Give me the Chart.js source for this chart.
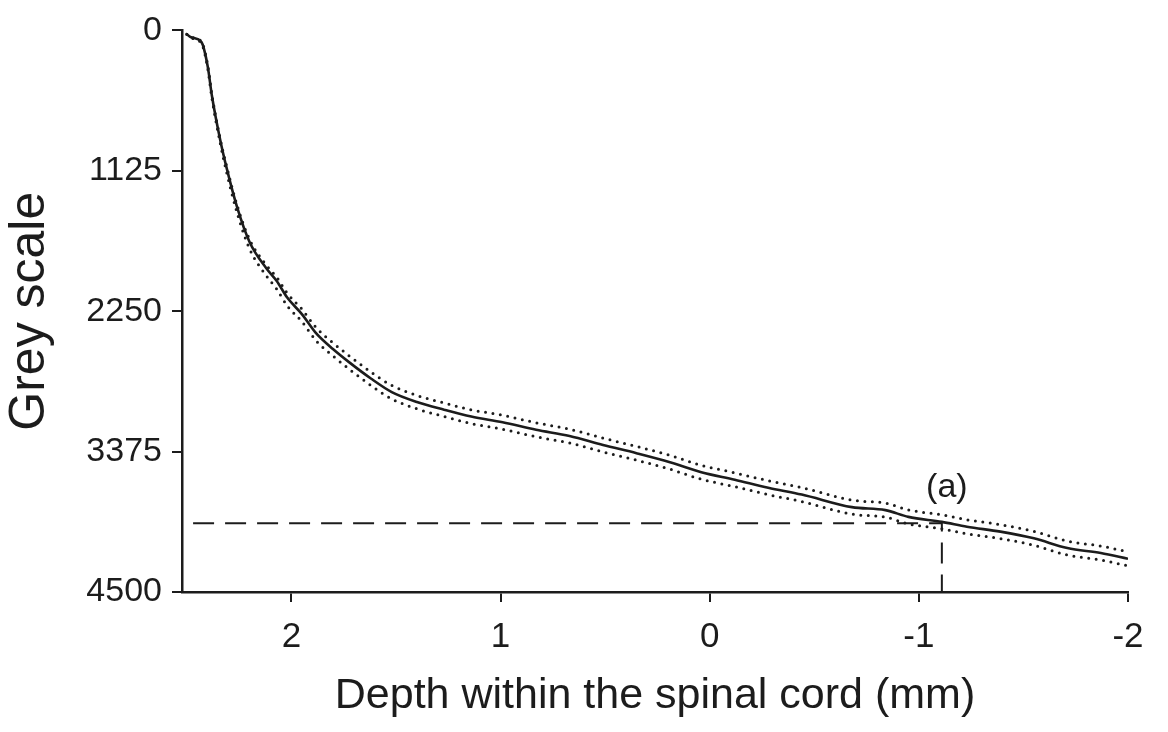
<!DOCTYPE html>
<html>
<head>
<meta charset="utf-8">
<script src="https://cdn.jsdelivr.net/npm/chart.js@4.4.0/dist/chart.umd.min.js"></script>
<style>
  html, body { margin: 0; padding: 0; background: #fff; }
  #wrap { width: 1168px; height: 732px; }
</style>
</head>
<body>
<div id="wrap"><canvas id="chart"></canvas></div>
<script>
// depth (mm) and mean grey value
const depth = [2.50, 2.48, 2.43, 2.40, 2.38, 2.34, 2.31, 2.26, 2.20, 2.12,
  2.07, 2.02, 1.95, 1.88, 1.80, 1.72, 1.62, 1.52, 1.40, 1.27,
  1.14, 0.99, 0.83, 0.67, 0.51, 0.35, 0.19, 0.04, -0.12, -0.28,
  -0.44, -0.68, -0.84, -0.95, -1.11, -1.23, -1.39, -1.55, -1.71, -1.87, -2.00];
const grey = [31, 55, 94, 289, 523, 880, 1100, 1414, 1695, 1906,
  2008, 2141, 2273, 2430, 2555, 2664, 2789, 2898, 2977, 3039,
  3094, 3140, 3200, 3250, 3322, 3388, 3460, 3540, 3600, 3664,
  3719, 3820, 3844, 3898, 3938, 3977, 4016, 4070, 4148, 4188, 4234];
// dotted bounds above / below the mean
const greyUpper = [31, 55, 89, 279, 513, 870, 1085, 1399, 1675, 1881,
  1978, 2106, 2233, 2385, 2505, 2612, 2737, 2845, 2925, 2985,
  3040, 3084, 3144, 3195, 3267, 3333, 3405, 3485, 3545, 3608,
  3663, 3764, 3788, 3842, 3882, 3921, 3960, 4014, 4092, 4132, 4178];
const greyLower = [31, 60, 104, 304, 543, 905, 1135, 1459, 1750, 1966,
  2073, 2206, 2333, 2490, 2610, 2719, 2844, 2953, 3032, 3094,
  3150, 3196, 3256, 3306, 3378, 3444, 3516, 3596, 3656, 3720,
  3775, 3876, 3900, 3954, 3994, 4033, 4072, 4126, 4204, 4244, 4290];

// dashed reference line to point (a)
const refDepth = [2.47, -1.11, -1.11];
const refGrey = [3950, 3950, 4500];
const markLabel = '(a)';

const xTicks = [2, 1, 0, -1, -2];
const yTicks = [0, 1125, 2250, 3375, 4500];

const FONT = '"Liberation Sans", Arial, Helvetica, sans-serif';
const INK = '#1c1c1c';

const pts = (xs, ys) => xs.map((x, i) => ({ x: x, y: ys[i] }));

const markPlugin = {
  id: 'markLabel',
  afterDatasetsDraw(chart) {
    const { ctx, scales } = chart;
    const px = scales.x.getPixelForValue(refDepth[1]);
    const py = scales.y.getPixelForValue(refGrey[1]);
    ctx.save();
    ctx.fillStyle = INK;
    ctx.font = '34px ' + FONT;
    ctx.textAlign = 'center';
    ctx.textBaseline = 'middle';
    ctx.fillText(markLabel, px + 5, py - 36);
    ctx.restore();
  }
};

const dotted = {
  borderColor: INK,
  borderWidth: 3,
  borderDash: [0, 7.5],
  borderCapStyle: 'round',
  pointRadius: 0,
  fill: false,
  cubicInterpolationMode: 'monotone'
};

new Chart(document.getElementById('chart'), {
  type: 'line',
  data: {
    datasets: [
      Object.assign({ data: pts(depth, greyUpper) }, dotted),
      Object.assign({ data: pts(depth, greyLower) }, dotted),
      {
        data: pts(depth, grey),
        borderColor: INK,
        borderWidth: 2.6,
        pointRadius: 0,
        fill: false,
        cubicInterpolationMode: 'monotone'
      },
      {
        data: pts(refDepth, refGrey),
        borderColor: INK,
        borderWidth: 2,
        borderDash: [21, 11],
        pointRadius: 0,
        fill: false,
        tension: 0
      }
    ]
  },
  options: {
    responsive: true,
    maintainAspectRatio: false,
    animation: false,
    events: [],
    layout: { padding: { left: 0, right: 40, top: 16, bottom: 0 } },
    plugins: {
      legend: { display: false },
      tooltip: { enabled: false }
    },
    scales: {
      x: {
        type: 'linear',
        reverse: true,
        min: -2,
        max: 2.523,
        afterBuildTicks: s => { s.ticks = xTicks.map(v => ({ value: v })); },
        afterFit: s => { s.height = 140; },
        grid: { display: true, drawOnChartArea: false, drawTicks: true, tickLength: 10, color: INK, lineWidth: 2 },
        border: { display: true, color: INK, width: 2.5 },
        ticks: { color: INK, padding: 14, font: { family: FONT, size: 35 }, maxRotation: 0, callback: v => String(v) },
        title: {
          display: true,
          text: 'Depth within the spinal cord (mm)',
          color: INK,
          font: { family: FONT, size: 43 },
          padding: { top: 0, bottom: 10 }
        }
      },
      y: {
        type: 'linear',
        reverse: true,
        min: 0,
        max: 4500,
        afterBuildTicks: s => { s.ticks = yTicks.map(v => ({ value: v })); },
        afterFit: s => { s.width = 182; },
        grid: { display: true, drawOnChartArea: false, drawTicks: true, tickLength: 10, color: INK, lineWidth: 2 },
        border: { display: true, color: INK, width: 2.5 },
        ticks: { color: INK, padding: 10, font: { family: FONT, size: 34 }, callback: v => String(v) },
        title: {
          display: true,
          text: 'Grey scale',
          color: INK,
          font: { family: FONT, size: 50 },
          padding: { top: 0, bottom: 0 }
        }
      }
    }
  },
  plugins: [markPlugin]
});
</script>
</body>
</html>
